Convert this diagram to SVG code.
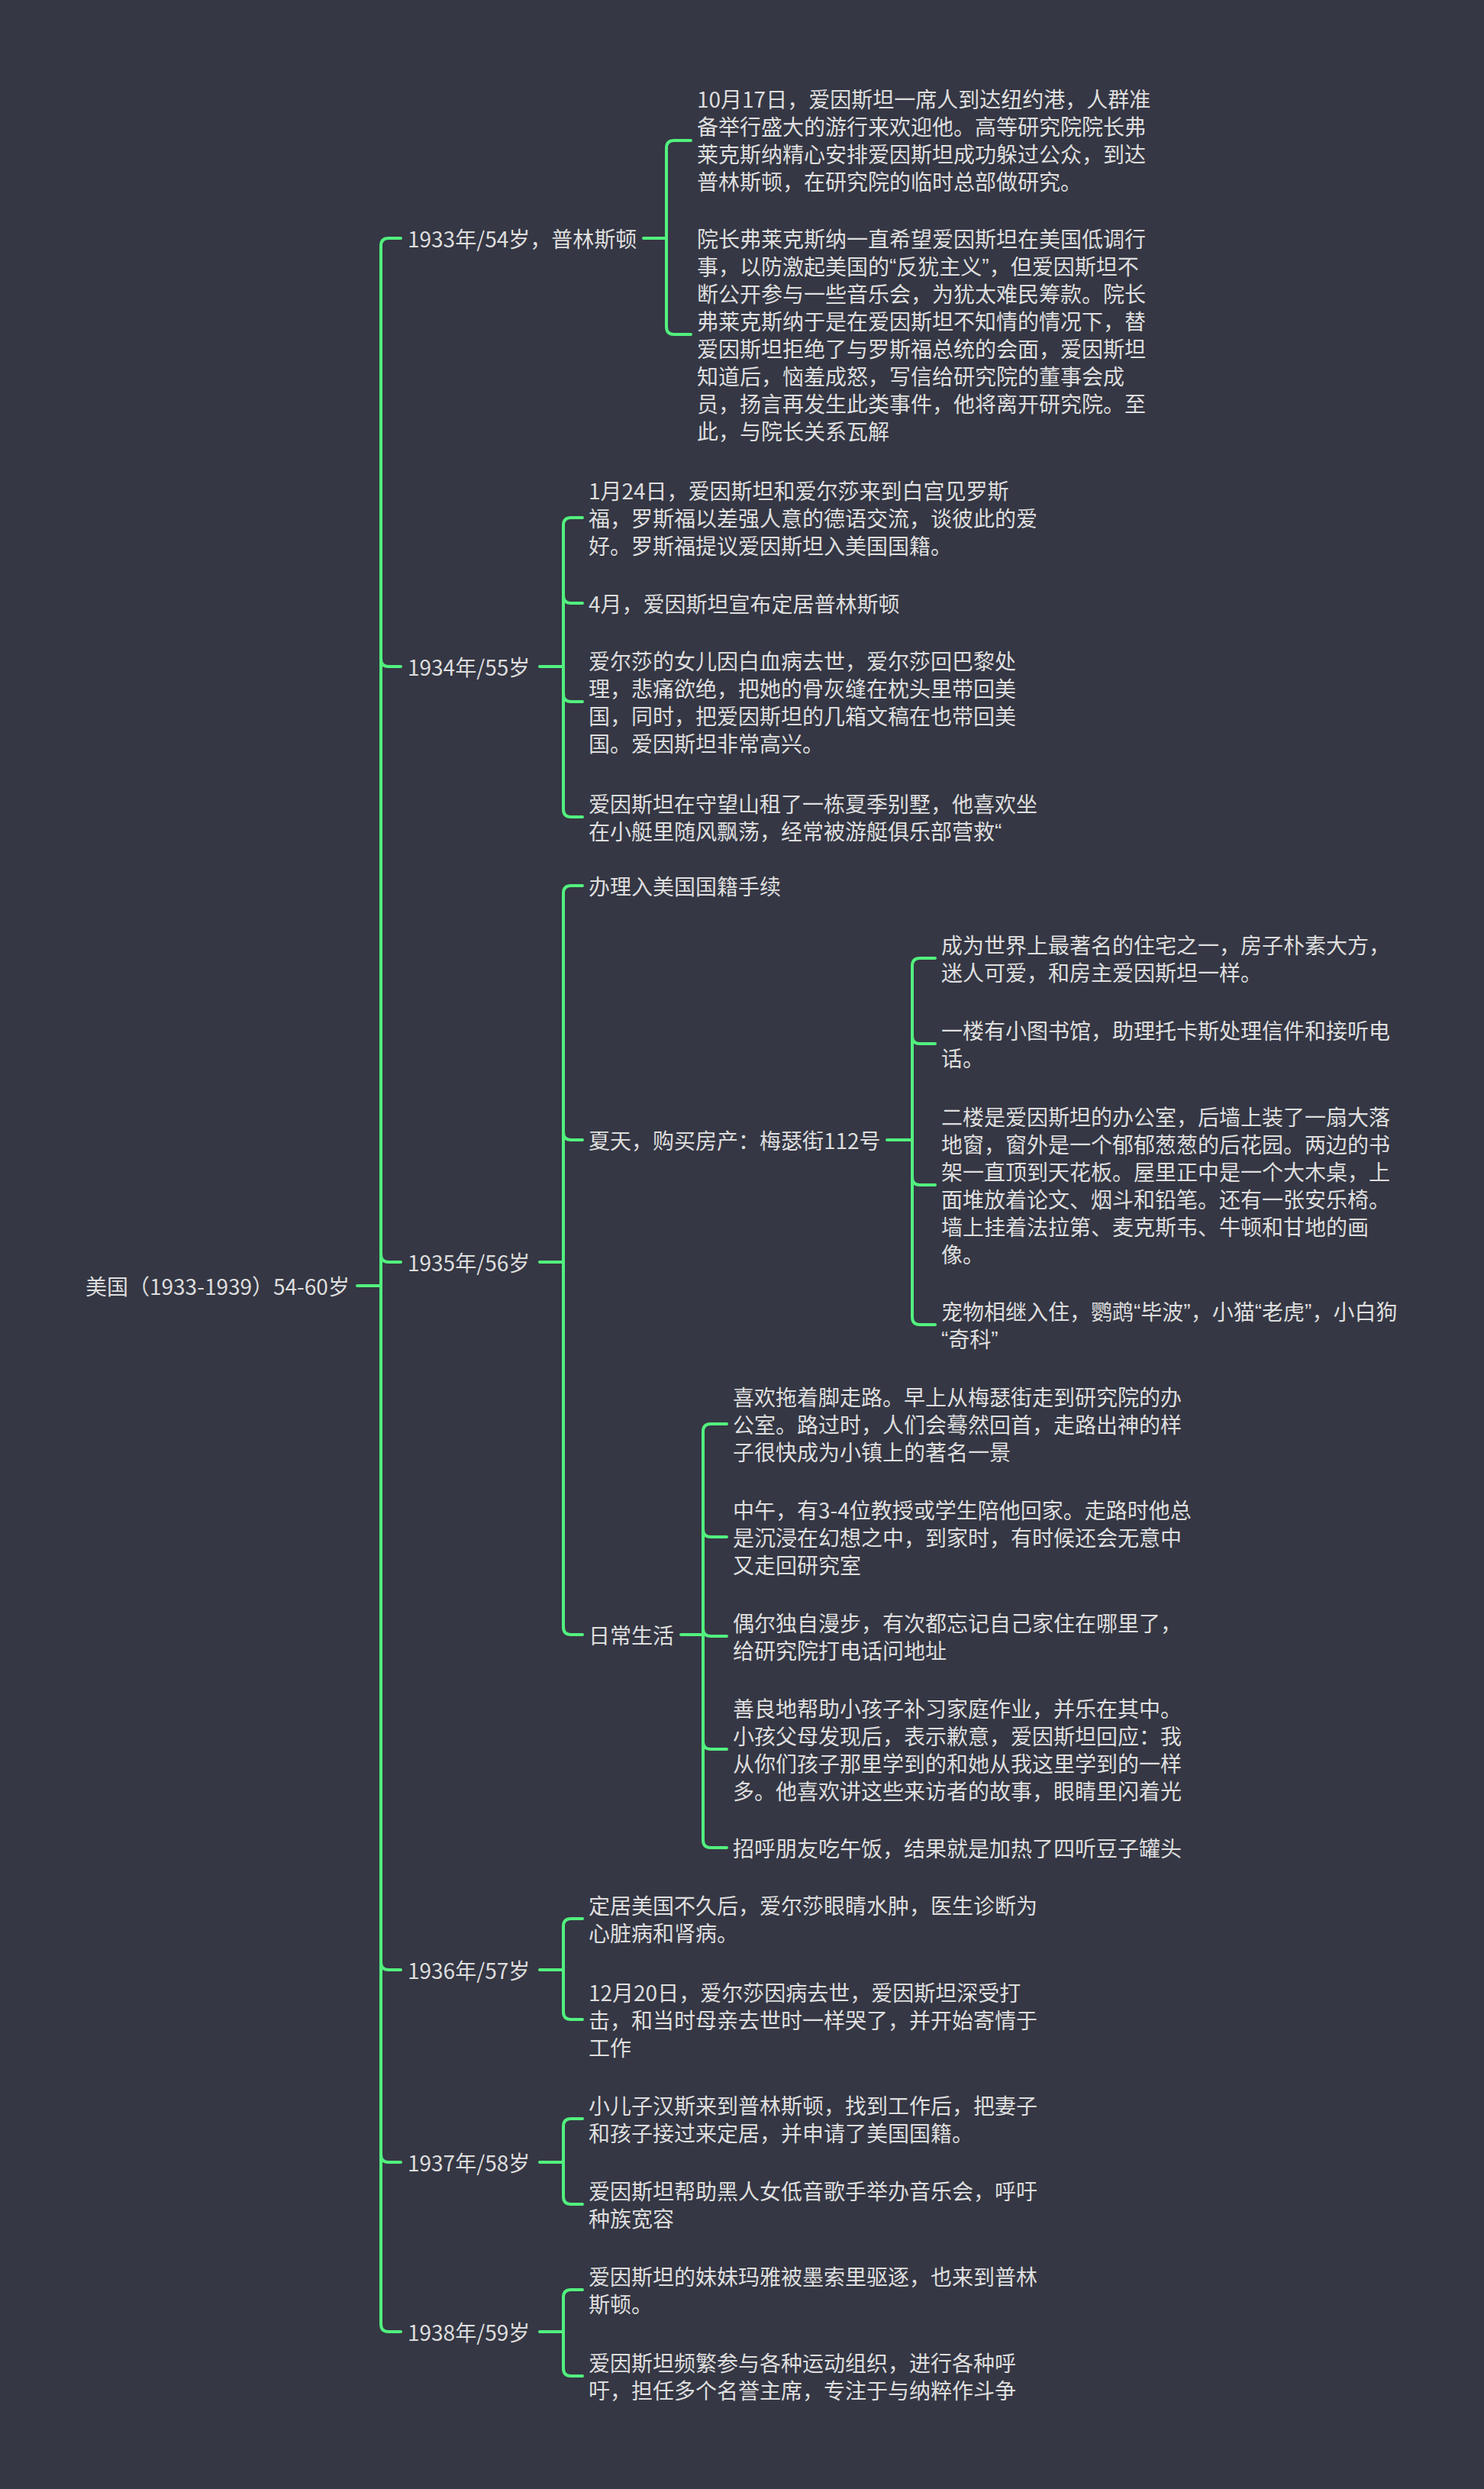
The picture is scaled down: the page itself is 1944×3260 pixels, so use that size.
<svg xmlns="http://www.w3.org/2000/svg" width="1944" height="3260" viewBox="0 0 1944 3260">
<style>
text{font-family:"Noto Sans CJK SC","Noto Sans",sans-serif;font-size:28px;fill:#dedede;dominant-baseline:central}
.q{font-family:"Liberation Sans",sans-serif}
.c{fill:none;stroke:#52f07e;stroke-width:4;stroke-linecap:round}
</style>
<rect width="1944" height="3260" fill="#353744"/>
<g id="connectors" class="c">
<path d="M468 1684H499M499 322V3044M499 322Q499 312 509 312H525M499 863Q499 873 509 873H525M499 1643Q499 1653 509 1653H525M499 2570Q499 2580 509 2580H525M499 2822Q499 2832 509 2832H525M499 3044Q499 3054 509 3054H525"/>
<path d="M843 312H873M873 194V428M873 194Q873 184 883 184H905M873 428Q873 438 883 438H905"/>
<path d="M707 873H738M738 688V1060M738 688Q738 678 748 678H763M738 780Q738 790 748 790H763M738 909Q738 919 748 919H763M738 1060Q738 1070 748 1070H763"/>
<path d="M707 1653H738M738 1170V2131M738 1170Q738 1160 748 1160H763M738 1483Q738 1493 748 1493H763M738 2131Q738 2141 748 2141H763"/>
<path d="M1162 1493H1195M1195 1265V1725M1195 1265Q1195 1255 1205 1255H1225M1195 1357Q1195 1367 1205 1367H1225M1195 1542Q1195 1552 1205 1552H1225M1195 1725Q1195 1735 1205 1735H1225"/>
<path d="M892 2141H921M921 1875V2410M921 1875Q921 1865 931 1865H952M921 2003Q921 2013 931 2013H952M921 2133Q921 2143 931 2143H952M921 2281Q921 2291 931 2291H952M921 2410Q921 2420 931 2420H952"/>
<path d="M707 2580H738M738 2523V2635M738 2523Q738 2513 748 2513H763M738 2635Q738 2645 748 2645H763"/>
<path d="M707 2832H738M738 2785V2877M738 2785Q738 2775 748 2775H763M738 2877Q738 2887 748 2887H763"/>
<path d="M707 3054H738M738 3009V3102M738 3009Q738 2999 748 2999H763M738 3102Q738 3112 748 3112H763"/>
</g>
<g id="root"><text x="112" y="1684">美国（1933-1939）54-60岁</text></g>
<g id="y1933"><text x="534" y="312">1933年/54岁，普林斯顿</text></g>
<g id="y1933a"><text x="913" y="129">10月17日，爱因斯坦一席人到达纽约港，人群准</text><text x="913" y="165">备举行盛大的游行来欢迎他。高等研究院院长弗</text><text x="913" y="201">莱克斯纳精心安排爱因斯坦成功躲过公众，到达</text><text x="913" y="237">普林斯顿，在研究院的临时总部做研究。</text></g>
<g id="y1933b"><text x="913" y="312">院长弗莱克斯纳一直希望爱因斯坦在美国低调行</text><text x="913" y="348">事，以防激起美国的<tspan class="q">“</tspan>反犹主义<tspan class="q">”</tspan>，但爱因斯坦不</text><text x="913" y="384">断公开参与一些音乐会，为犹太难民筹款。院长</text><text x="913" y="420">弗莱克斯纳于是在爱因斯坦不知情的情况下，替</text><text x="913" y="456">爱因斯坦拒绝了与罗斯福总统的会面，爱因斯坦</text><text x="913" y="492">知道后，恼羞成怒，写信给研究院的董事会成</text><text x="913" y="528">员，扬言再发生此类事件，他将离开研究院。至</text><text x="913" y="564">此，与院长关系瓦解</text></g>
<g id="y1934"><text x="534" y="873">1934年/55岁</text></g>
<g id="y1934a"><text x="771" y="642">1月24日，爱因斯坦和爱尔莎来到白宫见罗斯</text><text x="771" y="678">福，罗斯福以差强人意的德语交流，谈彼此的爱</text><text x="771" y="714">好。罗斯福提议爱因斯坦入美国国籍。</text></g>
<g id="y1934b"><text x="771" y="790">4月，爱因斯坦宣布定居普林斯顿</text></g>
<g id="y1934c"><text x="771" y="865">爱尔莎的女儿因白血病去世，爱尔莎回巴黎处</text><text x="771" y="901">理，悲痛欲绝，把她的骨灰缝在枕头里带回美</text><text x="771" y="937">国，同时，把爱因斯坦的几箱文稿在也带回美</text><text x="771" y="973">国。爱因斯坦非常高兴。</text></g>
<g id="y1934d"><text x="771" y="1052">爱因斯坦在守望山租了一栋夏季别墅，他喜欢坐</text><text x="771" y="1088">在小艇里随风飘荡，经常被游艇俱乐部营救<tspan class="q">“</tspan></text></g>
<g id="y1935"><text x="534" y="1653">1935年/56岁</text></g>
<g id="y1935a"><text x="771" y="1160">办理入美国国籍手续</text></g>
<g id="y1935b"><text x="771" y="1493">夏天，购买房产：梅瑟街112号</text></g>
<g id="y1935b1"><text x="1233" y="1237">成为世界上最著名的住宅之一，房子朴素大方，</text><text x="1233" y="1273">迷人可爱，和房主爱因斯坦一样。</text></g>
<g id="y1935b2"><text x="1233" y="1349">一楼有小图书馆，助理托卡斯处理信件和接听电</text><text x="1233" y="1385">话。</text></g>
<g id="y1935b3"><text x="1233" y="1462">二楼是爱因斯坦的办公室，后墙上装了一扇大落</text><text x="1233" y="1498">地窗，窗外是一个郁郁葱葱的后花园。两边的书</text><text x="1233" y="1534">架一直顶到天花板。屋里正中是一个大木桌，上</text><text x="1233" y="1570">面堆放着论文、烟斗和铅笔。还有一张安乐椅。</text><text x="1233" y="1606">墙上挂着法拉第、麦克斯韦、牛顿和甘地的画</text><text x="1233" y="1642">像。</text></g>
<g id="y1935b4"><text x="1233" y="1717">宠物相继入住，鹦鹉<tspan class="q">“</tspan>毕波<tspan class="q">”</tspan>，小猫<tspan class="q">“</tspan>老虎<tspan class="q">”</tspan>，小白狗</text><text x="1233" y="1753"><tspan class="q">“</tspan>奇科<tspan class="q">”</tspan></text></g>
<g id="y1935c"><text x="771" y="2141">日常生活</text></g>
<g id="y1935c1"><text x="960" y="1829">喜欢拖着脚走路。早上从梅瑟街走到研究院的办</text><text x="960" y="1865">公室。路过时，人们会蓦然回首，走路出神的样</text><text x="960" y="1901">子很快成为小镇上的著名一景</text></g>
<g id="y1935c2"><text x="960" y="1977">中午，有3-4位教授或学生陪他回家。走路时他总</text><text x="960" y="2013">是沉浸在幻想之中，到家时，有时候还会无意中</text><text x="960" y="2049">又走回研究室</text></g>
<g id="y1935c3"><text x="960" y="2125">偶尔独自漫步，有次都忘记自己家住在哪里了，</text><text x="960" y="2161">给研究院打电话问地址</text></g>
<g id="y1935c4"><text x="960" y="2237">善良地帮助小孩子补习家庭作业，并乐在其中。</text><text x="960" y="2273">小孩父母发现后，表示歉意，爱因斯坦回应：我</text><text x="960" y="2309">从你们孩子那里学到的和她从我这里学到的一样</text><text x="960" y="2345">多。他喜欢讲这些来访者的故事，眼睛里闪着光</text></g>
<g id="y1935c5"><text x="960" y="2420">招呼朋友吃午饭，结果就是加热了四听豆子罐头</text></g>
<g id="y1936"><text x="534" y="2580">1936年/57岁</text></g>
<g id="y1936a"><text x="771" y="2495">定居美国不久后，爱尔莎眼睛水肿，医生诊断为</text><text x="771" y="2531">心脏病和肾病。</text></g>
<g id="y1936b"><text x="771" y="2609">12月20日，爱尔莎因病去世，爱因斯坦深受打</text><text x="771" y="2645">击，和当时母亲去世时一样哭了，并开始寄情于</text><text x="771" y="2681">工作</text></g>
<g id="y1937"><text x="534" y="2832">1937年/58岁</text></g>
<g id="y1937a"><text x="771" y="2757">小儿子汉斯来到普林斯顿，找到工作后，把妻子</text><text x="771" y="2793">和孩子接过来定居，并申请了美国国籍。</text></g>
<g id="y1937b"><text x="771" y="2869">爱因斯坦帮助黑人女低音歌手举办音乐会，呼吁</text><text x="771" y="2905">种族宽容</text></g>
<g id="y1938"><text x="534" y="3054">1938年/59岁</text></g>
<g id="y1938a"><text x="771" y="2981">爱因斯坦的妹妹玛雅被墨索里驱逐，也来到普林</text><text x="771" y="3017">斯顿。</text></g>
<g id="y1938b"><text x="771" y="3094">爱因斯坦频繁参与各种运动组织，进行各种呼</text><text x="771" y="3130">吁，担任多个名誉主席，专注于与纳粹作斗争</text></g>
</svg>
